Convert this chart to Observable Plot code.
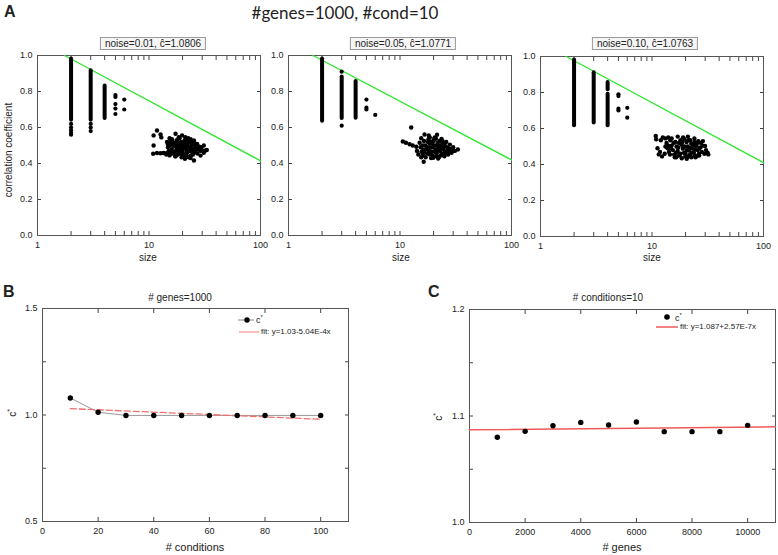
<!DOCTYPE html>
<html><head><meta charset="utf-8">
<script src="https://cdn.jsdelivr.net/npm/d3@7"></script>
<script src="https://cdn.jsdelivr.net/npm/@observablehq/plot@0.6"></script>
<style>
body{margin:0;background:#fff;font-family:"Liberation Sans",Arial,sans-serif;color:#222;}
#page{position:relative;width:778px;height:555px;overflow:hidden;}
.abs{position:absolute;line-height:1;}
.abs svg{display:block;}
.lbl{position:absolute;white-space:nowrap;transform:translate(-50%,-50%);}
.box{position:absolute;border:1px solid #9a9a9a;background:#f6f6f6;font-size:10px;line-height:11px;padding:0 4px;white-space:nowrap;transform:translateX(-50%);}
</style></head>
<body><div id="page"></div>
<script>
// ---------- Panel A data (size, correlation coefficient) ----------
const greenA1 = [[1.75, 1.0], [100, 0.415]];
const greenA2 = [[1.66, 1.0], [100, 0.42]];
const greenA3 = [[1.70, 1.0], [100, 0.41]];

const colsA1 = [[2, 0.64, 0.98], [3, 0.64, 0.915], [4, 0.65, 0.83]];
const colsA2 = [[2, 0.635, 0.98], [3, 0.65, 0.88], [4, 0.652, 0.855]];
const colsA3 = [[2, 0.615, 0.98], [3, 0.63, 0.91], [4, 0.815, 0.855], [4, 0.615, 0.79]];

const dotsA1 = [[2,0.62],[2,0.60],[2,0.585],[2,0.57],[2,0.56],[3,0.62],[3,0.60],[3,0.58],
  [5,0.78],[5,0.77],[5,0.73],[5,0.705],[5,0.675],[6,0.755],[6,0.70]];
const dotsA2 = [[3,0.91],[3,0.61],[5,0.755],[5,0.71],[5,0.70],[6,0.67]];
const dotsA3 = [[5,0.79],[5,0.78],[5,0.71],[5,0.70],[6,0.715],[6,0.66]];

const clusterA1 = [
  [11.8,0.583],[11.0,0.556],[12.7,0.561],[12.9,0.545],[11.0,0.50],[10.9,0.454],
  [11.8,0.458],[12.7,0.457],[13.5,0.458],[14.3,0.457],[15.3,0.456],
  [15.3,0.54],[17.3,0.565],[18.5,0.546],[19.8,0.556],[21.2,0.546],[16.2,0.53],[22.5,0.54],[23.6,0.535],
  [25.3,0.528],[27,0.509],[31,0.50],[32,0.472],[31,0.46],[29,0.444],[28.4,0.48],[26.7,0.49],[29.5,0.49],[33,0.475],
  [25.3,0.417],[21,0.426],[19.6,0.435],[17.3,0.44],[15.3,0.445],[23.6,0.43],[14.3,0.45],
  [14.5,0.52],[14.8,0.49],[15.0,0.47],[15.6,0.505],[16.0,0.48],[16.3,0.455],[16.6,0.515],[17.0,0.495],
  [17.4,0.47],[17.8,0.53],[18.1,0.45],[18.3,0.505],[18.7,0.485],[19.0,0.465],[19.4,0.52],[19.8,0.495],
  [20.1,0.475],[20.5,0.45],[20.9,0.53],[21.2,0.505],[21.6,0.485],[22.0,0.46],[22.4,0.515],[22.9,0.49],
  [23.3,0.47],[23.8,0.445],[24.2,0.50],[24.7,0.48],[25.3,0.46],[25.9,0.51],[26.5,0.475],[27.2,0.455],
  [28,0.495],[28.8,0.47],[17.2,0.44],[19.9,0.44],[22.7,0.435],[16.0,0.535],[18.8,0.54],[21.5,0.525],
  [15.2,0.50],[23.0,0.53],[20.3,0.51],[17.5,0.51],[26,0.49],
  [15.8,0.46],[16.8,0.465],[17.7,0.49],[18.5,0.47],[19.2,0.50],[20.0,0.46],[20.7,0.49],[21.8,0.47],
  [22.2,0.50],[23.5,0.485],[24.5,0.465],[25.6,0.475],[26.8,0.50],[15.5,0.52],[16.5,0.50],[18.0,0.52],
  [19.5,0.48],[21.0,0.515],[22.8,0.52],[24.0,0.515],[27.5,0.48],[29.8,0.475],[14.8,0.505],[17.0,0.455],
  [18.8,0.455],[21.4,0.445],[24.8,0.45]
];
const clusterA2 = [
  [12.6,0.60],[10.6,0.522],[11.3,0.515],[12.2,0.507],[13.0,0.50],[14.0,0.493],[16.6,0.561],[18.1,0.556],
  [23.6,0.537],[16.3,0.41],[33,0.478],[31,0.47],[30,0.49],[28,0.505],[26,0.52],[14.2,0.47],[14.6,0.45],
  [15.5,0.435],[19,0.43],[22,0.428],[25,0.44],[27,0.45],[29,0.46],[15.5,0.54],[20.5,0.545],[21.5,0.56],
  [15.0,0.515],[15.3,0.49],[15.6,0.465],[16.0,0.445],[16.4,0.525],[16.8,0.50],[17.2,0.478],[17.6,0.455],
  [18.0,0.535],[18.4,0.51],[18.8,0.488],[19.2,0.465],[19.6,0.445],[20.0,0.525],[20.4,0.50],[20.8,0.478],
  [21.3,0.455],[21.8,0.515],[22.3,0.49],[22.8,0.468],[23.3,0.445],[23.9,0.505],[24.5,0.48],[25.1,0.46],
  [25.8,0.495],[26.5,0.472],[27.3,0.485],[17.0,0.435],[19.9,0.432],[22.5,0.438],[18.5,0.545],[21.0,0.538],
  [24.0,0.525],[16.2,0.475],[19.4,0.51],[23.0,0.50],
  [16.5,0.46],[17.5,0.49],[18.2,0.47],[19.0,0.52],[19.8,0.49],[20.6,0.465],[21.5,0.50],[22.0,0.475],
  [23.5,0.485],[24.8,0.495],[26.0,0.46],[17.8,0.52],[20.2,0.535],[22.7,0.525],[25.3,0.515],[28.5,0.48],
  [30,0.47],[16.0,0.50],[18.5,0.45],[21.2,0.44],[24,0.455],[27,0.465]
];
const clusterA3 = [
  [10.8,0.559],[10.9,0.54],[11.5,0.456],[11.2,0.49],[12.0,0.535],[12.5,0.55],[13.2,0.545],[14,0.55],
  [11.8,0.47],[12.3,0.445],[13.0,0.46],[32,0.456],[29.9,0.503],[28.6,0.53],[30.5,0.48],[31.5,0.465],
  [20.5,0.432],[22.5,0.44],[18.5,0.435],[24.5,0.44],[26.5,0.45],[16.5,0.44],[17,0.555],[19,0.55],
  [21,0.555],[24,0.545],[26,0.53],
  [13.5,0.52],[13.8,0.49],[14.2,0.47],[14.6,0.535],[15.0,0.505],[15.4,0.48],[15.8,0.455],[16.2,0.525],
  [16.6,0.50],[17.0,0.475],[17.5,0.45],[18.0,0.535],[18.4,0.51],[18.9,0.488],[19.4,0.465],[19.9,0.445],
  [20.4,0.525],[20.9,0.50],[21.4,0.478],[21.9,0.455],[22.5,0.515],[23.1,0.49],[23.7,0.468],[24.3,0.45],
  [25.0,0.505],[25.7,0.48],[26.4,0.46],[27.2,0.495],[28,0.47],[22.0,0.535],[17.5,0.52],[19.5,0.54],
  [15,0.545],[24,0.525],[20,0.46],[13.2,0.50],
  [14.0,0.505],[14.8,0.49],[15.6,0.52],[16.4,0.465],[17.2,0.495],[18.0,0.46],[18.7,0.525],[19.6,0.50],
  [20.5,0.48],[21.2,0.535],[22.0,0.49],[22.8,0.465],[23.5,0.505],[24.5,0.485],[25.5,0.52],[26.5,0.49],
  [28.5,0.505],[29.5,0.46],[16,0.44],[21,0.445],[25,0.445],[27.5,0.52],[14.5,0.455]
];
const noiseLabels = ["noise=0.01, ĉ=1.0806", "noise=0.05, ĉ=1.0771", "noise=0.10, ĉ=1.0763"];
const logTicks = [1, 10, 100];
const logMinor = [1,2,3,4,5,6,7,8,9,10,20,30,40,50,60,70,80,90,100];
const corrTicks = [0, 0.2, 0.4, 0.6, 0.8, 1.0];

// ---------- Panel B data ----------
const conditions = [10, 20, 30, 40, 50, 60, 70, 80, 90, 100];
const cStarB = [1.08, 1.013, 0.998, 0.998, 0.998, 0.998, 0.998, 0.998, 0.998, 0.998];
const fitB = [[10, 1.03], [100, 0.98]];
const condTicks = [0, 20, 40, 60, 80, 100];
const cTicksB = [0.5, 1.0, 1.5];
const cMinorB = [0.5, 0.75, 1.0, 1.25, 1.5];

// ---------- Panel C data ----------
const genes = [1000, 2000, 3000, 4000, 5000, 6000, 7000, 8000, 9000, 10000];
const cStarC = [1.080, 1.0856, 1.0909, 1.094, 1.0915, 1.0944, 1.0853, 1.0853, 1.0853, 1.0912];
const fitC = [[0, 1.087], [11000, 1.0898]];
const geneTicks = [0, 2000, 4000, 6000, 8000, 10000];
const cTicksC = [1.0, 1.1, 1.2];
const cMinorC = [1.0, 1.05, 1.1, 1.15, 1.2];

const page = document.getElementById("page");
function add(html, cls, left, top, extra) {
  const d = document.createElement("div");
  d.className = cls; d.innerHTML = html;
  d.style.left = left + "px"; d.style.top = top + "px";
  if (extra) Object.assign(d.style, extra);
  page.appendChild(d); return d;
}
function place(svg, left, top) {
  const d = document.createElement("div");
  d.className = "abs"; d.style.left = left + "px"; d.style.top = top + "px";
  d.appendChild(svg); page.appendChild(d);
}
const baseStyle = {fontFamily: "Liberation Sans, Arial, sans-serif", fontSize: "9px", color: "#222", background: "transparent", overflow: "visible"};
const blank = () => "";

function frameAxes(xt, xm, yt, ym, xfmt, yfmt) {
  return [
    Plot.axisX({ticks: xt, tickFormat: xfmt, tickSize: 0, tickPadding: 6, label: null}),
    Plot.axisX({ticks: xm, tickFormat: blank, tickSize: 4, dy: -4, label: null, stroke: "#444"}),
    Plot.axisX({anchor: "top", ticks: xm, tickFormat: blank, tickSize: 4, dy: 4, label: null, stroke: "#444"}),
    Plot.axisY({ticks: yt, tickFormat: yfmt, tickSize: 0, tickPadding: 5, label: null}),
    Plot.axisY({ticks: ym, tickFormat: blank, tickSize: 4, dx: 4, label: null, stroke: "#444"}),
    Plot.axisY({anchor: "right", ticks: ym, tickFormat: blank, tickSize: 4, dx: -4, label: null, stroke: "#444"}),
    Plot.frame({stroke: "#555"})
  ];
}

function panelA(green, cols, dots, cluster) {
  return Plot.plot({
    width: 265, height: 225, marginLeft: 37, marginRight: 5, marginTop: 10, marginBottom: 35,
    style: baseStyle,
    x: {type: "log", domain: [1, 100], label: null},
    y: {domain: [0, 1], label: null},
    marks: [
      ...frameAxes(logTicks, logMinor, corrTicks, corrTicks, d => String(d), d3.format(".1f")),
      Plot.line(green, {x: d => d[0], y: d => d[1], stroke: "#33e633", strokeWidth: 1.4}),
      Plot.ruleX(cols, {x: d => d[0], y1: d => d[1], y2: d => d[2], stroke: "#000", strokeWidth: 4, strokeLinecap: "round"}),
      Plot.dot(dots, {x: d => d[0], y: d => d[1], r: 2.1, fill: "#000"}),
      Plot.dot(cluster, {x: d => d[0], y: d => d[1], r: 2.2, fill: "#000"})
    ]
  });
}

place(panelA(greenA1, colsA1, dotsA1, clusterA1), 0, 45);
place(panelA(greenA2, colsA2, dotsA2, clusterA2), 251, 45);
place(panelA(greenA3, colsA3, dotsA3, clusterA3), 503, 46);

// Panel B
const dataB = conditions.map((c, i) => ({x: c, y: cStarB[i]}));
place(Plot.plot({
  width: 355, height: 275, marginLeft: 42, marginRight: 7, marginTop: 28, marginBottom: 34,
  style: baseStyle,
  x: {domain: [0, 110], label: null},
  y: {domain: [0.5, 1.5], label: null},
  marks: [
    ...frameAxes(condTicks, condTicks, cTicksB, cMinorB, d => String(d), d3.format(".1f")),
    Plot.line(dataB, {x: "x", y: "y", stroke: "#999", strokeWidth: 1}),
    Plot.line(fitB, {x: d => d[0], y: d => d[1], stroke: "#f07070", strokeWidth: 1.3, strokeDasharray: "6,3"}),
    Plot.dot(dataB, {x: "x", y: "y", r: 2.7, fill: "#000"})
  ]
}), 0, 280);

// Panel C
const dataC = genes.map((g, i) => ({x: g, y: cStarC[i]}));
place(Plot.plot({
  width: 388, height: 275, marginLeft: 79, marginRight: 3, marginTop: 29, marginBottom: 33,
  style: baseStyle,
  x: {domain: [0, 11000], label: null},
  y: {domain: [1.0, 1.2], label: null},
  marks: [
    ...frameAxes(geneTicks, geneTicks, cTicksC, cMinorC, d => String(d), d3.format(".1f")),
    Plot.line(fitC, {x: d => d[0], y: d => d[1], stroke: "#f05a5a", strokeWidth: 1.5}),
    Plot.dot(dataC, {x: "x", y: "y", r: 2.7, fill: "#000"})
  ]
}), 390, 280);

// ---------- Text ----------
add("A", "abs", 4, 4, {fontSize: "16px", fontWeight: "bold"});
add("#genes=1000, #cond=10", "lbl", 345, 12, {fontSize: "17px", fontFamily: "Lato, 'Open Sans', sans-serif"});
noiseLabels.forEach((t, i) => add(t, "box", [153, 403, 645][i], 37));
add("correlation coefficient", "lbl", 8, 150, {fontSize: "10px", transform: "translate(-50%,-50%) rotate(-90deg)"});
[148, 401, 652].forEach(x => add("size", "lbl", x, 257, {fontSize: "10px"}));

add("B", "abs", 3, 284, {fontSize: "16px", fontWeight: "bold"});
add("# genes=1000", "lbl", 180, 297, {fontSize: "10px"});
add("# conditions", "lbl", 195, 547, {fontSize: "11px"});
add("c<sup style='font-size:7px'>*</sup>", "lbl", 12, 413, {fontSize: "10px", transform: "translate(-50%,-50%) rotate(-90deg)"});
add("<svg width='16' height='8'><line x1='0' y1='4' x2='16' y2='4' stroke='#888'/><circle cx='9' cy='4' r='2.7' fill='#000'/></svg>", "abs", 238, 316);
add("c<sup style='font-size:6px'>*</sup>", "abs", 256, 314, {fontSize: "9px"});
add("<svg width='20' height='4'><line x1='0' y1='2' x2='20' y2='2' stroke='#f5a0a0' stroke-width='1.4'/></svg>", "abs", 239, 330);
add("fit: y=1.03-5.04E-4x", "abs", 261, 328, {fontSize: "8px"});

add("C", "abs", 428, 284, {fontSize: "16px", fontWeight: "bold"});
add("# conditions=10", "lbl", 608, 297, {fontSize: "10px"});
add("# genes", "lbl", 622, 547, {fontSize: "11px"});
add("c<sup style='font-size:7px'>*</sup>", "lbl", 438, 417, {fontSize: "10px", transform: "translate(-50%,-50%) rotate(-90deg)"});
add("<svg width='8' height='8'><circle cx='4' cy='4' r='2.8' fill='#000'/></svg>", "abs", 663, 313);
add("c<sup style='font-size:6px'>*</sup>", "abs", 675, 312, {fontSize: "9px"});
add("<svg width='22' height='4'><line x1='0' y1='2' x2='22' y2='2' stroke='#f05a5a' stroke-width='1.5'/></svg>", "abs", 656, 325);
add("fit: y=1.087+2.57E-7x", "abs", 680, 323, {fontSize: "8px"});
</script></body></html>
